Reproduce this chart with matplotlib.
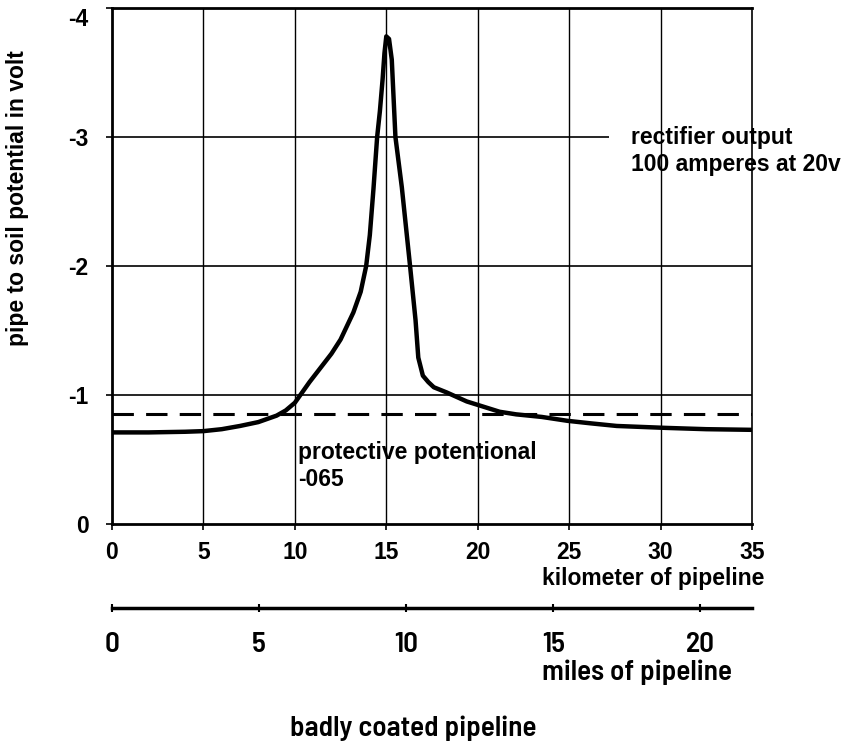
import matplotlib.pyplot as plt

plt.rcParams["font.family"] = ["Liberation Sans", "DejaVu Sans"]
plt.rcParams["font.weight"] = "bold"

# pipe to soil potential (km, volt)
km = [0, 2, 4, 5, 6, 7, 8, 9, 9.5, 10, 10.3, 10.8, 11.4, 12.0, 12.5, 13.2,
      13.6, 13.9, 14.1, 14.3, 14.5, 14.65, 14.8, 14.9, 15.0, 15.15, 15.3,
      15.5, 15.85, 16.3, 16.6, 16.75, 17.0, 17.3, 17.6, 18.3, 19.4, 20.3,
      21.2, 22.1, 23.5, 24.9, 26.2, 27.6, 30.3, 32.5, 35]
volt = [-0.71, -0.71, -0.715, -0.72, -0.735, -0.76, -0.79, -0.84, -0.88,
        -0.94, -1.0, -1.1, -1.21, -1.32, -1.43, -1.64, -1.8, -2.0, -2.24,
        -2.6, -3.0, -3.2, -3.45, -3.65, -3.78, -3.76, -3.6, -3.0, -2.61,
        -2.0, -1.58, -1.29, -1.15, -1.1, -1.06, -1.02, -0.95, -0.91, -0.87,
        -0.85, -0.83, -0.8, -0.78, -0.76, -0.745, -0.735, -0.73]

protective = -0.85
km_ticks = [0, 5, 10, 15, 20, 25, 30, 35]
volt_ticks = [-4, -3, -2, -1, 0]
mile_ticks = [0, 5, 10, 15, 20]
km_per_mile = 1.609

narrow = ["Barlow Semi Condensed", "Liberation Sans Narrow", "DejaVu Sans"]
big = 16.5
mile_size = 21

fig = plt.figure(figsize=(8.65, 7.44), dpi=100)
left, right = 112 / 865, 752 / 865
bottom, top = 1 - 524 / 744, 1 - 8 / 744
ax = fig.add_axes([left, bottom, right - left, top - bottom])

ax.set_xlim(0, 35)
ax.set_ylim(0, -4)

# grid
for x in km_ticks[1:-1]:
    ax.axvline(x, color="black", lw=1, zorder=1)
ax.hlines(-3, 0, 27.2, color="black", lw=1.2, zorder=1)
ax.hlines([-2, -1], 0, 35, color="black", lw=1.2, zorder=1)

ax.axhline(protective, color="black", lw=2.2, ls=(0, (7, 4)), zorder=2)
ax.plot(km, volt, color="black", lw=3.2, solid_joinstyle="round",
        solid_capstyle="round", zorder=3)

ax.set_xticks(km_ticks)
ax.set_yticks(volt_ticks)
ax.set_xticklabels([str(t) for t in km_ticks], fontsize=big, fontweight="bold")
ax.set_yticklabels([str(t) for t in volt_ticks], fontsize=big, fontweight="bold")
ax.get_yticklabels()[0].set_va("top")
ax.tick_params(axis="both", length=4, width=1.2, direction="out")
ax.tick_params(axis="y", pad=13)
ax.tick_params(axis="x", pad=8)
for side in ["left", "bottom", "top"]:
    ax.spines[side].set_linewidth(2)
ax.spines["right"].set_linewidth(1.2)

ax.text(28.4, -2.89, "rectifier output\n100 amperes at 20v", fontsize=big,
        fontweight="bold", va="center", ha="left", linespacing=1.2)
ax.text(10.17, -0.45, "protective potentional\n-065", fontsize=big,
        fontweight="bold", va="center", ha="left", linespacing=1.2)

fig.text(542 / 865, 1 - 578 / 744, "kilometer of pipeline", fontsize=big,
         fontweight="bold", ha="left", va="center")
fig.text(18 / 865, 1 - 198 / 744, "pipe to soil potential in volt", fontsize=big,
         fontweight="bold", rotation=90, ha="center", va="center")

# miles scale
ax2 = fig.add_axes([left, 1 - 608 / 744, right - left, 0.001])
ax2.set_xlim(0, 35 / km_per_mile)
ax2.set_yticks([])
for side in ["left", "right", "top"]:
    ax2.spines[side].set_visible(False)
ax2.spines["bottom"].set_linewidth(2.5)
ax2.patch.set_visible(False)
ax2.set_xticks(mile_ticks)
ax2.set_xticklabels([str(t) for t in mile_ticks], fontsize=mile_size,
                    fontweight=600, family=narrow)
ax2.tick_params(axis="x", direction="inout", length=6, width=1.5, pad=14)

fig.text(542 / 865, 1 - 672 / 744, "miles of pipeline", fontsize=mile_size,
         fontweight=600, ha="left", va="center", family=narrow)
fig.text(290 / 865, 1 - 728 / 744, "badly coated pipeline", fontsize=mile_size,
         fontweight=600, ha="left", va="center", family=narrow)

fig.savefig("out.png", dpi=100)
